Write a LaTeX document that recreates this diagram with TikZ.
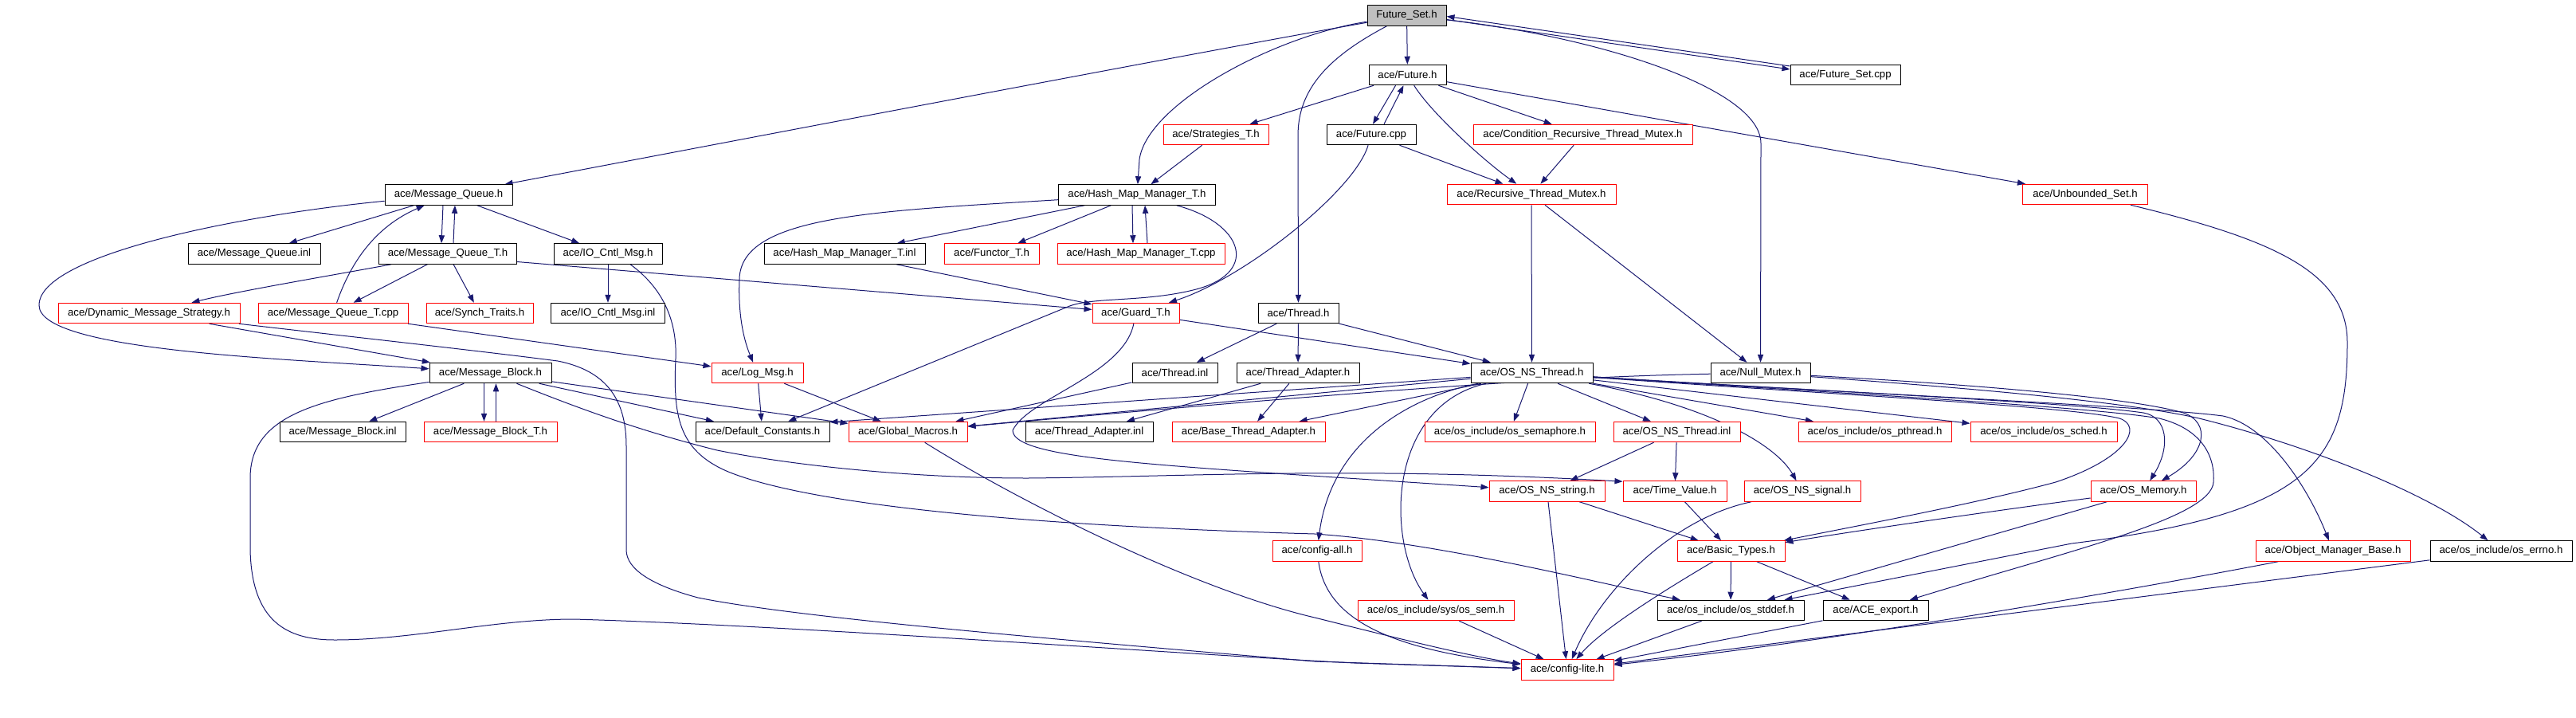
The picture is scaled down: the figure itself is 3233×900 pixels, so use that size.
\documentclass[tikz,border=0pt]{standalone}
\usepackage{fontspec}
\setmainfont{Liberation Sans}
\usetikzlibrary{arrows.meta,calc}
\pgfdeclarelayer{bg}
\pgfsetlayers{bg,main}
\definecolor{edgec}{HTML}{191970}
\definecolor{fsgray}{HTML}{BFBFBF}
\begin{document}
\begin{tikzpicture}[x=0.5pt,y=-0.5pt,
  font=\fontsize{6.6}{8}\selectfont,
  bx/.style={draw=black, line width=0.5pt, fill=white, inner sep=0pt, minimum height=12.75pt, text=black},
  rb/.style={bx, draw=red},
  dep/.style={draw=edgec, line width=0.5pt, -{Triangle[length=5pt,width=3.6pt]}}]
\useasboundingbox (0,0) rectangle (3233,900);
% ---------- nodes ----------
\node[bx,fill=fsgray,minimum width=49.5pt] (fs) at (1765.5,19.5) {Future\_Set.h};
\node[bx,minimum width=48.5pt] (fut) at (1766.5,94) {ace/Future.h};
\node[bx,minimum width=69pt] (fscpp) at (2316,94) {ace/Future\_Set.cpp};
\node[rb,minimum width=66pt] (strat) at (1526,169) {ace/Strategies\_T.h};
\node[bx,minimum width=56pt] (futcpp) at (1721,169) {ace/Future.cpp};
\node[rb,minimum width=137.5pt] (crtm) at (1986.5,169) {ace/Condition\_Recursive\_Thread\_Mutex.h};
\node[rb,minimum width=106pt] (rtm) at (1922,244) {ace/Recursive\_Thread\_Mutex.h};
\node[rb,minimum width=78.5pt] (unb) at (2617,244) {ace/Unbounded\_Set.h};
\node[bx,minimum width=80pt] (mq) at (563,244.5) {ace/Message\_Queue.h};
\node[bx,minimum width=98.5pt] (hmm) at (1427,244.5) {ace/Hash\_Map\_Manager\_T.h};
\node[bx,minimum width=83pt] (mqinl) at (319,318.5) {ace/Message\_Queue.inl};
\node[bx,minimum width=86.5pt] (mqt) at (562,318.5) {ace/Message\_Queue\_T.h};
\node[bx,minimum width=68pt] (iocm) at (763,318.5) {ace/IO\_Cntl\_Msg.h};
\node[bx,minimum width=101pt] (hmminl) at (1060,318.5) {ace/Hash\_Map\_Manager\_T.inl};
\node[rb,minimum width=59.5pt] (functor) at (1244.5,318.5) {ace/Functor\_T.h};
\node[rb,minimum width=105pt] (hmmcpp) at (1432,318.5) {ace/Hash\_Map\_Manager\_T.cpp};
\node[rb,minimum width=114pt] (dms) at (187,393) {ace/Dynamic\_Message\_Strategy.h};
\node[rb,minimum width=94pt] (mqtcpp) at (418,393) {ace/Message\_Queue\_T.cpp};
\node[rb,minimum width=67pt] (synch) at (602,393) {ace/Synch\_Traits.h};
\node[bx,minimum width=71.5pt] (iocminl) at (763,393) {ace/IO\_Cntl\_Msg.inl};
\node[rb,minimum width=54.5pt] (guard) at (1425.5,393) {ace/Guard\_T.h};
\node[bx,minimum width=50.5pt] (thread) at (1629.5,393) {ace/Thread.h};
\node[bx,minimum width=76.5pt] (mb) at (615.5,468) {ace/Message\_Block.h};
\node[rb,minimum width=57.5pt] (logmsg) at (950.5,468) {ace/Log\_Msg.h};
\node[bx,minimum width=53.5pt] (threadinl) at (1474.5,468) {ace/Thread.inl};
\node[bx,minimum width=77pt] (ta) at (1629,468) {ace/Thread\_Adapter.h};
\node[bx,minimum width=76.5pt] (osnsthr) at (1922.5,468) {ace/OS\_NS\_Thread.h};
\node[bx,minimum width=62.5pt] (nullm) at (2209.5,468) {ace/Null\_Mutex.h};
\node[bx,minimum width=79pt] (mbinl) at (430,542) {ace/Message\_Block.inl};
\node[rb,minimum width=83.5pt] (mbt) at (615.5,542) {ace/Message\_Block\_T.h};
\node[bx,minimum width=84pt] (defc) at (957,542) {ace/Default\_Constants.h};
\node[rb,minimum width=74.5pt] (gm) at (1139.5,542) {ace/Global\_Macros.h};
\node[bx,minimum width=80pt] (tainl) at (1367,542) {ace/Thread\_Adapter.inl};
\node[rb,minimum width=96pt] (bta) at (1567,542) {ace/Base\_Thread\_Adapter.h};
\node[rb,minimum width=107pt] (ossema) at (1895,542) {ace/os\_include/os\_semaphore.h};
\node[rb,minimum width=79.5pt] (thrinl) at (2104.5,542) {ace/OS\_NS\_Thread.inl};
\node[rb,minimum width=96pt] (ospth) at (2353,542) {ace/os\_include/os\_pthread.h};
\node[rb,minimum width=92pt] (ossched) at (2565,542) {ace/os\_include/os\_sched.h};
\node[rb,minimum width=72.5pt] (osstr) at (1941.5,616.5) {ace/OS\_NS\_string.h};
\node[rb,minimum width=65pt] (tv) at (2102,616.5) {ace/Time\_Value.h};
\node[rb,minimum width=73pt] (ossig) at (2262,616.5) {ace/OS\_NS\_signal.h};
\node[rb,minimum width=66pt] (osmem) at (2690,616.5) {ace/OS\_Memory.h};
\node[rb,minimum width=56pt] (cfgall) at (1653,691.5) {ace/config-all.h};
\node[rb,minimum width=67.5pt] (bt) at (2172.5,691.5) {ace/Basic\_Types.h};
\node[rb,minimum width=97pt] (omb) at (2928,691.5) {ace/Object\_Manager\_Base.h};
\node[bx,minimum width=89pt] (oserrno) at (3139,691.5) {ace/os\_include/os\_errno.h};
\node[rb,minimum width=98pt] (ossem) at (1802,766) {ace/os\_include/sys/os\_sem.h};
\node[bx,minimum width=92pt] (osstddef) at (2172,766) {ace/os\_include/os\_stddef.h};
\node[bx,minimum width=66pt] (aceexp) at (2354,766) {ace/ACE\_export.h};
\node[rb,minimum width=58pt] (cfglite) at (1967,840.5) {ace/config-lite.h};
% ---------- edges ----------
\begin{pgfonlayer}{bg}
\fill[white] (0,0) rectangle (3233,900);
% Future_Set.h
\draw[dep] (fs) .. controls (1500,66) and (800,200) .. (mq);
\draw[dep] (fs) .. controls (1600,45) and (1440,130) .. (1430,200) -- (hmm);
\draw[dep] (fs) -- (fut);
\draw[dep] (fs) .. controls (1670,70) and (1629,110) .. (1629,170) -- (thread);
\draw[dep] (fs) .. controls (2000,45) and (2210,110) .. (2210,180) -- (nullm);
\draw[dep] ($(fs.east)+(0,5)$) -- ($(fscpp.west)+(0,-7)$);
\draw[dep] ($(fscpp.west)+(0,-11)$) -- ($(fs.east)+(0,1)$);
% Future.h
\draw[dep] (fut) -- (strat);
\draw[dep] ($(fut.south)+(-15,0)$) -- ($(futcpp.north)+(2,0)$);
\draw[dep] ($(futcpp.north)+(16,0)$) -- ($(fut.south)+(-5,0)$);
\draw[dep] (fut) .. controls (1795,140) and (1860,200) .. (rtm);
\draw[dep] (fut) -- (crtm);
\draw[dep] (fut) -- (unb);
\draw[dep] (futcpp) -- (rtm);
\draw[dep] (futcpp) .. controls (1700,240) and (1560,350) .. (guard);
\draw[dep] (strat) -- (hmm);
\draw[dep] (crtm) -- (rtm);
\draw[dep] (rtm) -- (osnsthr);
\draw[dep] (rtm) -- (nullm);
\draw[dep] ($(unb.south)+(57,0)$) .. controls (2850,300) and (2946,340) .. (2946,430) .. controls (2946,580) and (2900,645) .. (2600,682) -- (osstddef);
% Message_Queue.h
\draw[dep] (mq) -- (mqinl);
\draw[dep] ($(mq.south)+(-7,0)$) -- ($(mqt.north)+(-8,0)$);
\draw[dep] ($(mqt.north)+(7,0)$) -- ($(mq.south)+(8,0)$);
\draw[dep] (mq) -- (iocm);
\draw[dep] (mq) .. controls (300,270) and (49,320) .. (49,383) .. controls (49,440) and (350,450) .. (mb);
\draw[dep] (mqt) .. controls (420,345) and (300,365) .. (dms);
\draw[dep] (mqt) -- (mqtcpp);
\draw[dep] (mqt) -- (synch);
\draw[dep] ($(mqt.east)+(0,10)$) -- (guard);
\draw[dep] (mqtcpp) .. controls (440,330) and (470,285) .. (mq);
\draw[dep] (mqtcpp) -- (logmsg);
\draw[dep] (iocm) -- (iocminl);
\draw[dep] ($(iocm.south)+(28,0)$) .. controls (830,360) and (850,400) .. (848,450) .. controls (845,520) and (850,565) .. (914,592) .. controls (1020,635) and (1300,660) .. (1650,670) .. controls (1800,680) and (2000,730) .. (osstddef);
% Hash_Map_Manager_T.h
\draw[dep] (hmm) -- (hmminl);
\draw[dep] (hmm) -- (functor);
\draw[dep] ($(hmm.south)+(-6,0)$) -- ($(hmmcpp.north)+(-10,0)$);
\draw[dep] ($(hmmcpp.north)+(8,0)$) -- ($(hmm.south)+(10,0)$);
\draw[dep] (hmm) .. controls (1100,265) and (930,270) .. (928,350) .. controls (926,400) and (935,430) .. (logmsg);
\draw[dep] (hmm) .. controls (1560,280) and (1580,340) .. (1505,362) .. controls (1440,380) and (1370,372) .. (1340,385) -- (defc);
\draw[dep] (hmminl) -- (guard);
% Guard_T.h, Thread.h
\draw[dep] (guard) -- (osnsthr);
\draw[dep] (guard) .. controls (1410,470) and (1290,500) .. (1271,540) .. controls (1271,570) and (1400,580) .. (1600,594) -- (osstr);
\draw[dep] (thread) -- (threadinl);
\draw[dep] (thread) -- (ta);
\draw[dep] (thread) -- (osnsthr);
% Dynamic_Message_Strategy.h
\draw[dep] (dms) -- (mb);
\draw[dep] (dms) .. controls (400,418) and (600,440) .. (700,453) .. controls (760,465) and (786,500) .. (786,560) -- (786,690) .. controls (786,715) and (820,735) .. (876,750) .. controls (1000,775) and (1300,800) .. (1650,830) -- (cfglite);
% Message_Block.h
\draw[dep] (mb) -- (mbinl);
\draw[dep] ($(mb.south)+(-8,0)$) -- ($(mbt.north)+(-8,0)$);
\draw[dep] ($(mbt.north)+(7,0)$) -- ($(mb.south)+(7,0)$);
\draw[dep] (mb) .. controls (400,500) and (314,520) .. (314,600) -- (314,690) .. controls (316,780) and (360,803) .. (420,803) .. controls (520,803) and (620,777) .. (720,777) .. controls (1000,785) and (1500,822) .. (1700,832) -- (cfglite);
\draw[dep] (mb) -- (gm);
\draw[dep] (mb) -- (defc);
\draw[dep] (mb) .. controls (720,510) and (800,540) .. (900,565) .. controls (1000,585) and (1150,600) .. (1290,600) .. controls (1500,598) and (1700,585) .. ($(tv.north west)+(0,1)$);
% Log_Msg.h, Global_Macros.h, Thread.inl, Thread_Adapter.h
\draw[dep] (logmsg) -- (defc);
\draw[dep] (logmsg) -- (gm);
\draw[dep] (gm) .. controls (1280,630) and (1500,740) .. (1650,775) .. controls (1750,800) and (1850,825) .. (cfglite);
\draw[dep] (threadinl) -- (gm);
\draw[dep] (ta) -- (tainl);
\draw[dep] (ta) -- (bta);
% OS_NS_Thread.h
\draw[dep] (osnsthr) -- (bta);
\draw[dep] (osnsthr) -- (gm);
\draw[dep] (osnsthr) -- ($(defc.north east)+(0,1)$);
\draw[dep] (osnsthr) .. controls (1760,500) and (1670,560) .. (cfgall);
\draw[dep] (osnsthr) .. controls (1740,510) and (1740,680) .. (ossem);
\draw[dep] (osnsthr) -- (ossema);
\draw[dep] (osnsthr) -- (thrinl);
\draw[dep] (osnsthr) -- (ospth);
\draw[dep] (osnsthr) -- (ossched);
\draw[dep] (osnsthr) .. controls (2150,510) and (2230,560) .. (ossig);
\draw[dep] (osnsthr) .. controls (2300,495) and (2600,510) .. (2660,525) .. controls (2690,535) and (2670,575) .. (2580,605) .. controls (2480,632) and (2330,660) .. (bt);
\draw[dep] (osnsthr) .. controls (2300,492) and (2600,505) .. (2690,518) .. controls (2720,523) and (2725,560) .. (osmem);
\draw[dep] (osnsthr) .. controls (2300,492) and (2700,510) .. (2790,522) .. controls (2850,535) and (2900,620) .. (omb);
\draw[dep] (osnsthr) .. controls (2300,493) and (2620,510) .. (2710,525) .. controls (2770,540) and (2780,580) .. (2778,605) .. controls (2775,650) and (2600,690) .. (aceexp);
% Null_Mutex.h
\draw[dep] (nullm) .. controls (2000,472) and (1800,482) .. (gm);
\draw[dep] (nullm) .. controls (2400,478) and (2660,495) .. (2740,518) .. controls (2775,530) and (2770,570) .. (osmem);
\draw[dep] (nullm) .. controls (2400,482) and (2650,500) .. (2760,525) .. controls (2900,560) and (3050,620) .. (oserrno);
% lower part
\draw[dep] (thrinl) -- (osstr);
\draw[dep] (thrinl) -- (tv);
\draw[dep] (osstr) -- (bt);
\draw[dep] (osstr) -- (cfglite);
\draw[dep] (tv) -- (bt);
\draw[dep] (ossig) .. controls (2100,650) and (2010,740) .. (cfglite);
\draw[dep] (osmem) .. controls (2600,628) and (2400,655) .. (bt);
\draw[dep] (osmem) -- (osstddef);
\draw[dep] (bt) .. controls (2090,740) and (2010,790) .. (cfglite);
\draw[dep] (bt) -- (osstddef);
\draw[dep] (bt) -- (aceexp);
\draw[dep] (cfgall) .. controls (1665,780) and (1750,815) .. (cfglite);
\draw[dep] (ossem) -- (cfglite);
\draw[dep] (osstddef) -- (cfglite);
\draw[dep] (aceexp) -- (cfglite);
\draw[dep] (omb) .. controls (2650,745) and (2300,805) .. (cfglite);
\draw[dep] (oserrno) -- (cfglite);
\end{pgfonlayer}
\end{tikzpicture}
\end{document}
